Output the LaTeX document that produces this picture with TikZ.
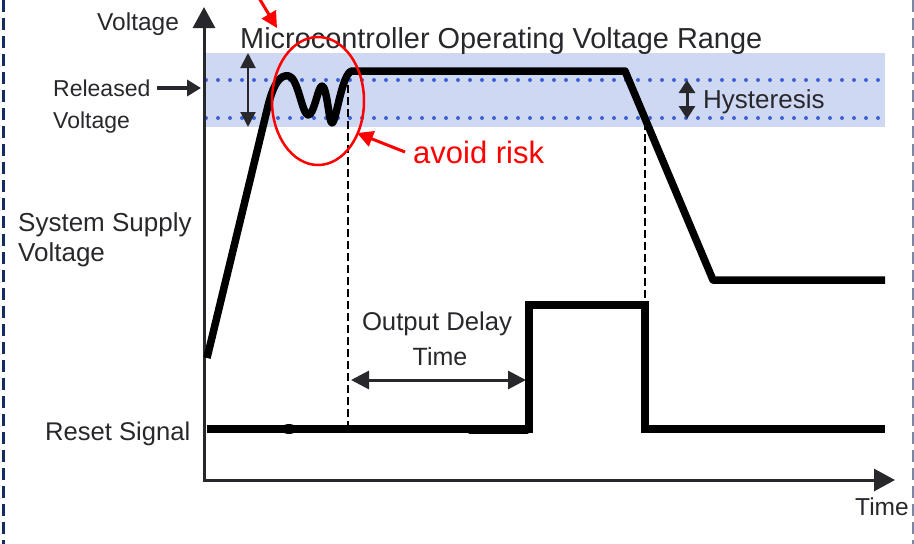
\documentclass[tikz,border=0pt]{standalone}
\usepackage{fontspec}
\setmainfont{Liberation Sans}
\usetikzlibrary{positioning,arrows.meta}
\definecolor{bandblue}{RGB}{207,216,243}
\definecolor{dotblue}{RGB}{60,100,210}
\definecolor{inkgray}{RGB}{40,40,44}
\definecolor{navyframe}{RGB}{22,42,100}
\definecolor{grayframe}{RGB}{120,135,165}
\newcommand{\fs}[1]{\fontsize{#1}{#1}\selectfont}
\tikzset{
  lbl/.style={inner sep=0pt, anchor=base west, text=inkgray},
  axisline/.style={line width=3pt, draw=inkgray, {Triangle[length=21pt,width=22pt]}-{Triangle[length=21pt,width=22pt]}},
  signal/.style={line width=7.5pt, line join=round},
  guideline/.style={line width=2.6pt, dash pattern=on 8pt off 4pt},
  dotline/.style={dotblue, line width=4pt, line cap=round, dash pattern=on 0pt off 12pt},
  markarrow/.style={-{Triangle[length=16pt,width=16pt]}, line width=3pt, red},
  spanarrow/.style={{Triangle[length=18pt,width=18pt]}-{Triangle[length=18pt,width=18pt]}, line width=3pt, inkgray},
  framedash/.style={line width=3pt, dash pattern=on 12pt off 6pt}
}

\begin{document}
\begin{tikzpicture}[x=1pt,y=-1pt]
  \useasboundingbox (0,0) rectangle (914,544);
  % page frame
  \draw[framedash, navyframe] (3,0) -- (3,544);
  \draw[framedash, grayframe, line width=2pt] (913,0) -- (913,544);
  % operating range band
  \fill[bandblue] (204,53) rectangle (885,127);
  \draw[dotline] (206,80) -- (885,80);
  \draw[dotline] (206,118) -- (885,118);
  % axes
  \coordinate (origin) at (204,480);
  \coordinate (ytip) at (204,7);
  \coordinate (xtip) at (895,480);
  \draw[axisline] (ytip) -- (origin) -- (xtip);
  % labels
  \node[lbl, font=\fs{24.5}] (vlabel) at (97,30) {Voltage};
  \node[lbl, font=\fs{28.9}] (range) at (240,48) {Microcontroller Operating Voltage Range};
  \node[lbl, font=\fs{23}] (released) at (53,96) {Released};
  \node[lbl, font=\fs{23}] (released2) at (53,128) {Voltage};
  \node[lbl, font=\fs{26}] (hyst) at (703,108) {Hysteresis};
  \node[lbl, font=\fs{26}] (supply) at (18,231) {System Supply};
  \node[lbl, font=\fs{26}] (supply2) at (18,261) {Voltage};
  \node[lbl, font=\fs{25.6}] (reset) at (45,440) {Reset Signal};
  \node[lbl, anchor=base, font=\fs{25.7}] (delay) at (437,330) {Output Delay};
  \node[lbl, anchor=base, font=\fs{25}] (delay2) at (440,365) {Time};
  \node[lbl, font=\fs{24.5}] (tlabel) at (855,515) {Time};
  \node[lbl, text=red, font=\fs{31}] (risk) at (413,163) {avoid risk};
  % arrows in the band
  \coordinate (bandtop) at (248,53);
  \coordinate (bandbot) at (248,127);
  \draw[{Triangle[length=15pt,width=15pt]}-{Triangle[length=15pt,width=15pt]}, line width=2pt, inkgray] (bandtop) -- (bandbot);
  \coordinate (hystop) at (687,80);
  \coordinate (hysbot) at (687,119);
  \draw[{Triangle[length=13pt,width=16pt]}-{Triangle[length=13pt,width=16pt]}, line width=3pt, inkgray] (hystop) -- (hysbot);
  \coordinate (reltail) at (157,88);
  \coordinate (reltip) at (201,88);
  \draw[-{Triangle[length=14pt,width=16pt]}, line width=4pt, inkgray] (reltail) -- (reltip);
  % guide lines
  \draw[guideline] (348,85) -- (348,425);
  \draw[guideline] (645,122) -- (645,303);
  \coordinate (dleft) at (351,380);
  \coordinate (dright) at (526,380);
  \draw[spanarrow] (dleft) -- (dright);
  % supply voltage
  \draw[signal] (207,358) -- (267,110)
    .. controls (273,84) and (280,74) .. (289,76)
    .. controls (298,78) and (302,114) .. (308,115)
    .. controls (314,116) and (318,86) .. (322,86)
    .. controls (327,86) and (329,123) .. (332,123)
    .. controls (336,123) and (342,72) .. (352,71)
    -- (625,71) -- (713,280) -- (885,280);
  % reset signal
  \draw[signal, line join=miter] (207,429) -- (529,429) -- (529,305) -- (645,305) -- (645,429) -- (885,429);
  \fill (289,429) ellipse [x radius=8pt, y radius=5pt];
  \draw[line width=9pt, line cap=round] (470,429) -- (527,429);
  % risk marks
  \draw[red, line width=2.5pt] (318,101) ellipse [x radius=46pt, y radius=64pt];
  \coordinate (toptail) at (259,-2);
  \coordinate (toptip) at (277,28);
  \draw[markarrow] (toptail) -- (toptip);
  \coordinate (risktail) at (405,152);
  \coordinate (risktip) at (357,133);
  \draw[markarrow] (risktail) -- (risktip);
\end{tikzpicture}
\end{document}
